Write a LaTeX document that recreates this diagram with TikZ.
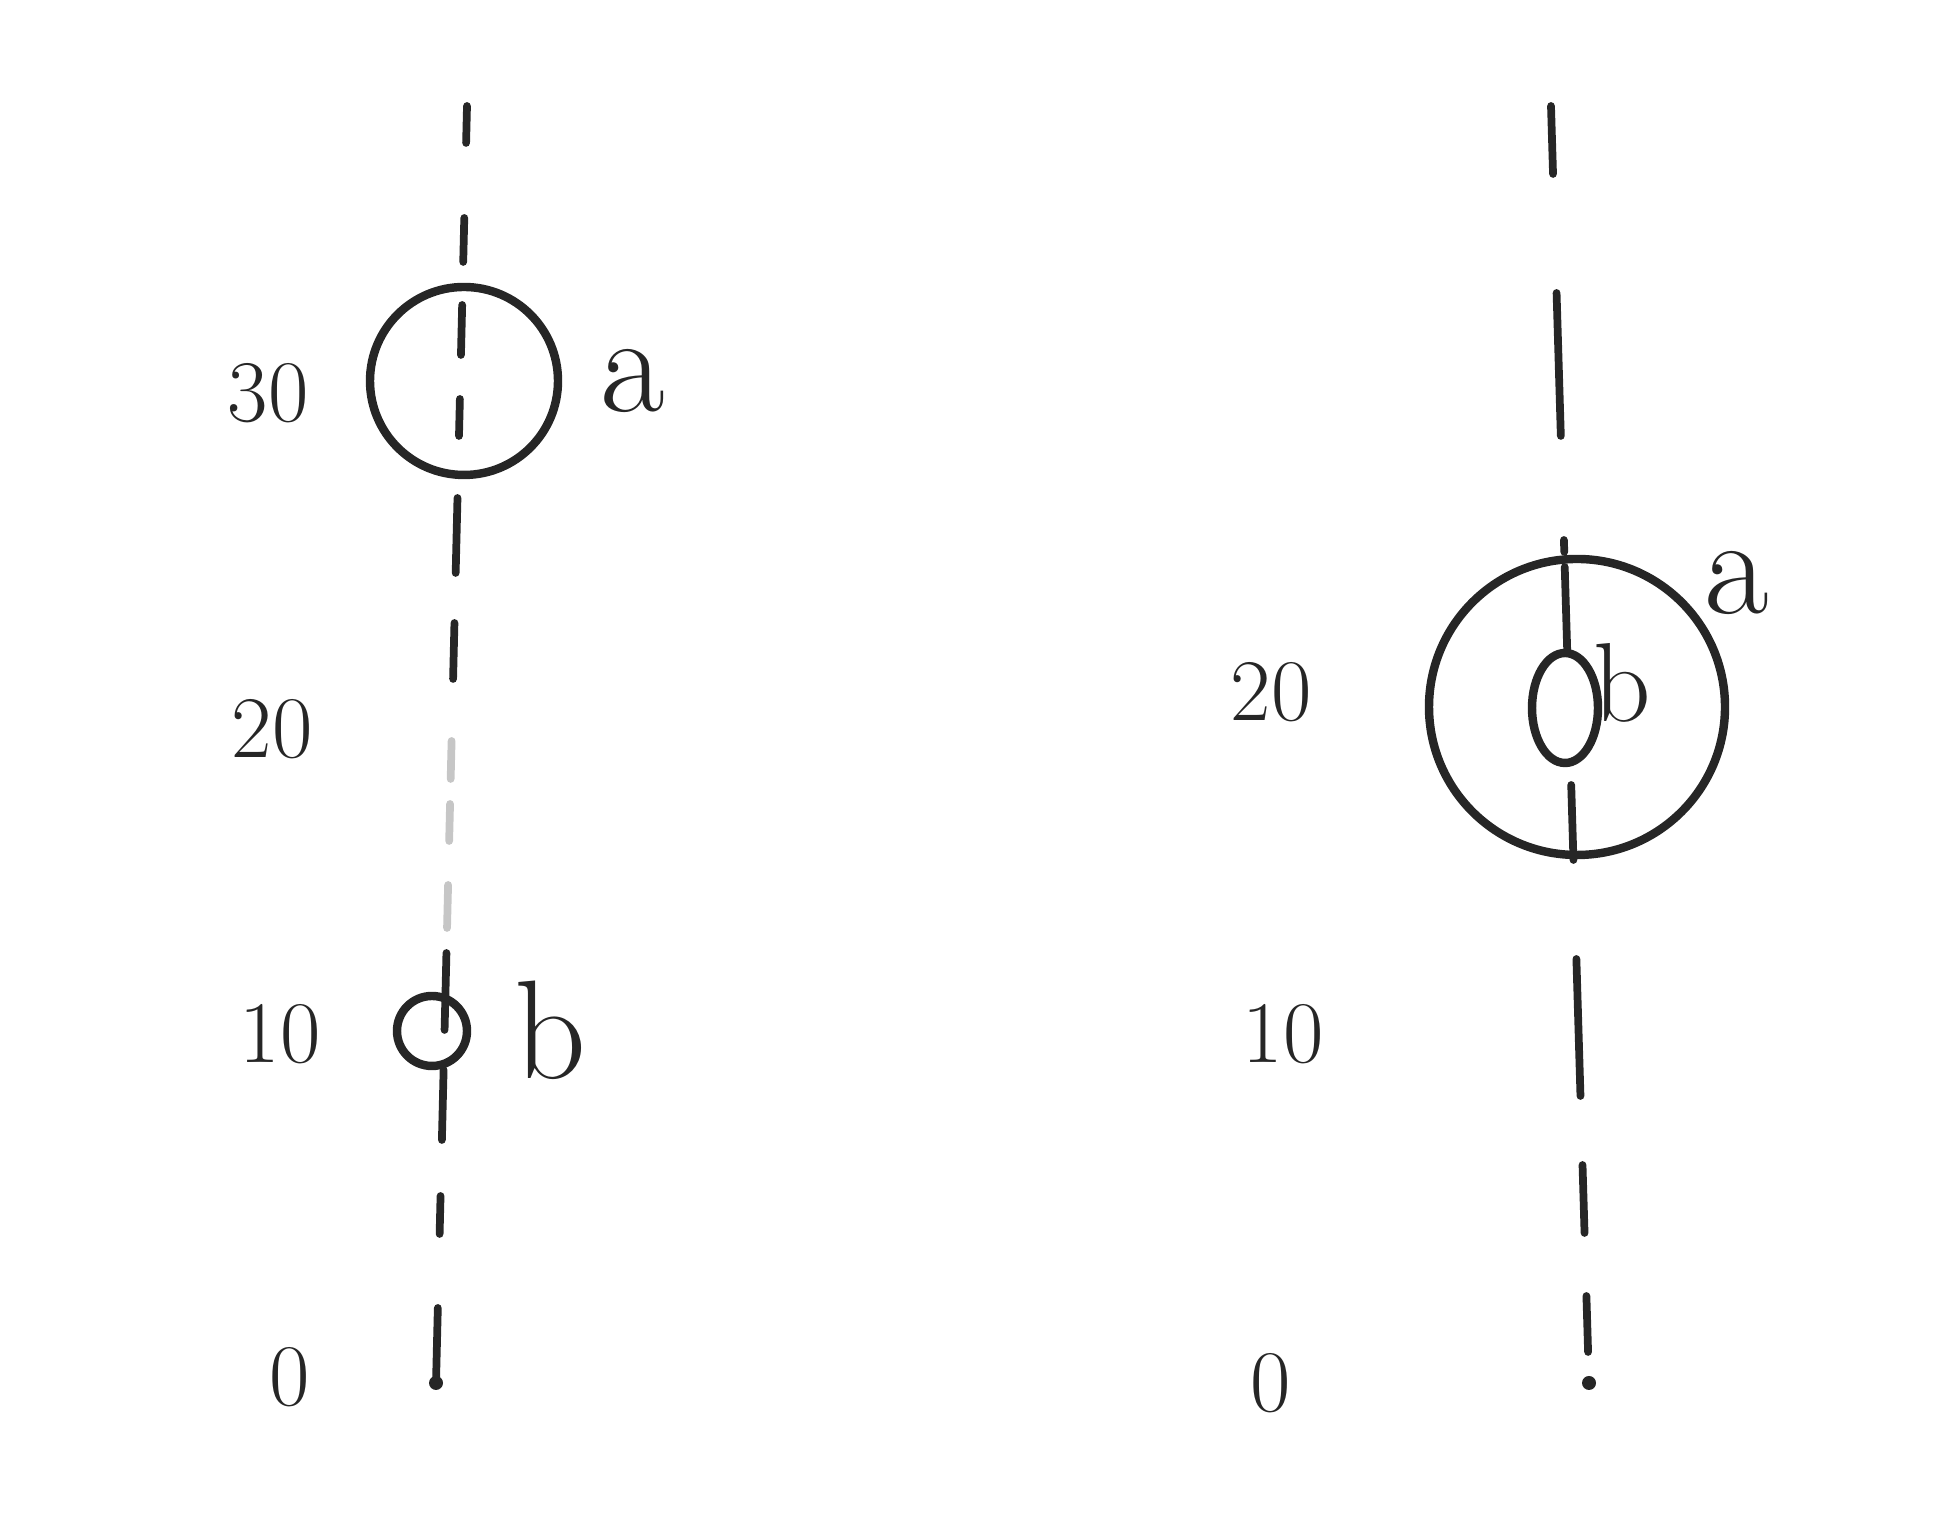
\documentclass[tikz,border=0pt]{standalone}
\usepackage{tikz}
\usetikzlibrary{positioning, calc}

\begin{document}
\begin{tikzpicture}[x=1cm,y=1cm,
  ink/.style={line width=2.2pt,line cap=round,black!85},
  pale/.style={line width=2.2pt,line cap=round,gray!45},
  ball/.style={circle,draw,line width=2.4pt,black!85,inner sep=0pt},
  depth/.style={font=\fontsize{25}{27}\selectfont,black!85},
  tag/.style={font=\fontsize{40}{42}\selectfont,black!85}]
\useasboundingbox (0,0) rectangle (19.54,15.28);
% left: a above b
\coordinate (ltop) at (4.67,14.22);
\coordinate (lbot) at (4.36,1.45);
\foreach \s/\e in {106/143,218/262,305/355,399/436,498/573,623/679,953/1030,1070/1140,1196/1234,1308/1378}{
\draw[ink] ($(ltop)!{(\s-106)/1277}!(lbot)$)--($(ltop)!{(\e-106)/1277}!(lbot)$);
}
\foreach \s/\e in {741/779,804/841,885/928}{
\draw[pale] ($(ltop)!{(\s-106)/1277}!(lbot)$)--($(ltop)!{(\e-106)/1277}!(lbot)$);
}
\fill[black!85] (lbot) circle (0.07);
\node[ball,minimum size=1.88cm] (la) at (4.64,11.47) {};
\node[ball,minimum size=0.7cm] (lb) at (4.32,4.97) {};
\node[tag] (laname) at (6.33,11.47) {a};
\node[tag] (lbname) at (5.50,4.98) {b};
\node[depth] (l30) at (2.68,11.35) {30};
\node[depth] (l20) at (2.72,7.99) {20};
\node[depth] (l10) at (2.80,4.94) {10};
\node[depth] (l0) at (2.90,1.51) {0};
% right: b inside a
\coordinate (rtop) at (15.51,14.22);
\coordinate (rbot) at (15.89,1.45);
\foreach \s/\e in {106/174,293/436,540/552,567/653,785/860,959/1096,1165/1233,1296/1352}{
\draw[ink] ($(rtop)!{(\s-106)/1277}!(rbot)$)--($(rtop)!{(\e-106)/1277}!(rbot)$);
}
\fill[black!85] (rbot) circle (0.07);
\node[ball,minimum size=2.96cm] (ra) at (15.77,8.21) {};
\draw[line width=2.4pt,black!85] (15.65,8.20) ellipse (0.33 and 0.55);
\node[tag] (raname) at (17.37,9.45) {a};
\node[tag,font=\fontsize{32}{34}\selectfont] (rbname) at (16.22,8.45) {b};
\node[depth] (r20) at (12.71,8.36) {20};
\node[depth] (r10) at (12.83,4.94) {10};
\node[depth] (r0) at (12.71,1.45) {0};
\end{tikzpicture}
\end{document}
